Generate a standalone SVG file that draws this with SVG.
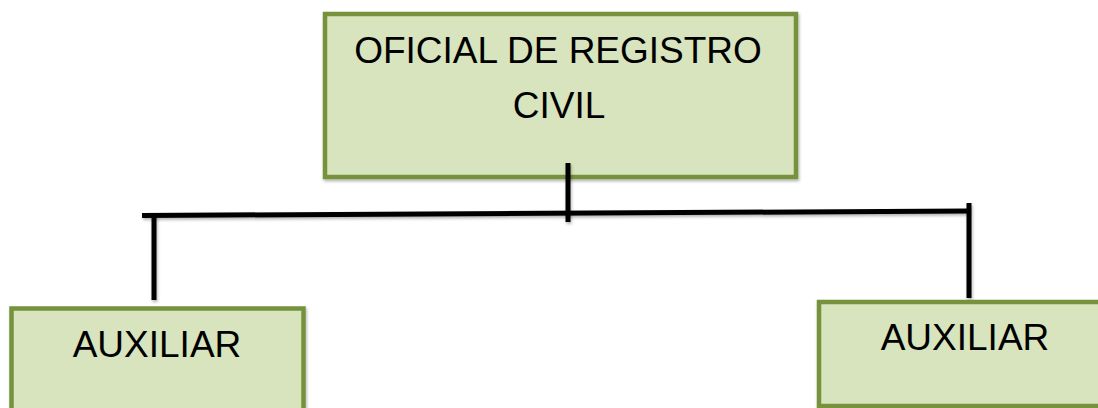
<svg xmlns="http://www.w3.org/2000/svg" width="1098" height="408" viewBox="0 0 1098 408">
<defs>
<filter id="sh" filterUnits="userSpaceOnUse" x="0" y="0" width="1098" height="408">
<feDropShadow dx="1" dy="2" stdDeviation="1.5" flood-color="#000" flood-opacity="0.3"/>
</filter>
</defs>
<style>
.box{fill:#D7E4BD;stroke:#76923C;stroke-width:4.5;filter:url(#sh)}
.t{font-family:"Liberation Sans",Arial,sans-serif;font-size:37px;fill:#000;text-anchor:middle}
.ln{stroke:#000;stroke-width:5;fill:none;filter:url(#sh)}
</style>
<rect width="1098" height="408" fill="#fff"/>
<g id="node-oficial">
<rect class="box" x="325" y="14" width="471" height="163"/>
<text class="t" x="558" y="63">OFICIAL DE REGISTRO</text>
<text class="t" x="559" y="118">CIVIL</text>
</g>
<g id="connectors">
<line class="ln" x1="142" y1="215.5" x2="969" y2="211"/>
<line class="ln" x1="568" y1="163" x2="568" y2="222"/>
<line class="ln" x1="154" y1="215" x2="154" y2="300"/>
<line class="ln" x1="969" y1="203" x2="969" y2="298"/>
</g>
<g id="node-auxiliar-left">
<rect class="box" x="11.5" y="308.5" width="292" height="120"/>
<text class="t" x="157" y="357">AUXILIAR</text>
</g>
<g id="node-auxiliar-right">
<rect class="box" x="819" y="302" width="300" height="104"/>
<text class="t" x="965" y="350">AUXILIAR</text>
</g>
</svg>
